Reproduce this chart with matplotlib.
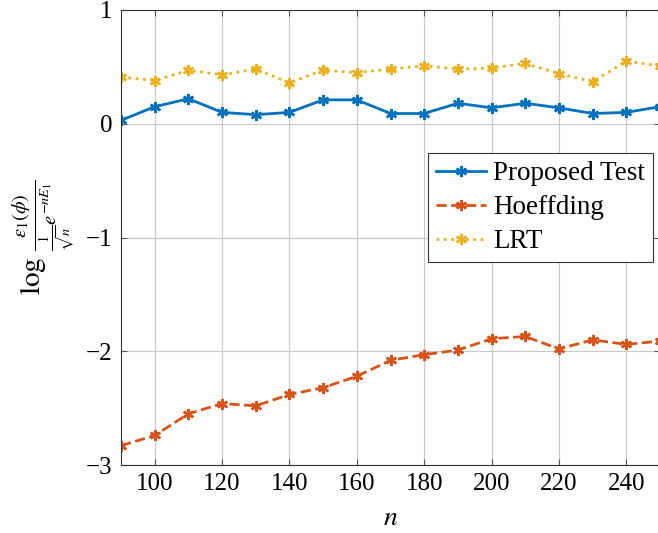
import matplotlib
matplotlib.use("Agg")
import matplotlib.pyplot as plt

plt.rcParams['font.family'] = ['Liberation Serif', 'DejaVu Serif']
plt.rcParams['mathtext.fontset'] = 'stix'

n = [90, 100, 110, 120, 130, 140, 150, 160, 170, 180, 190, 200, 210, 220, 230, 240, 250]
proposed = [0.03, 0.15, 0.22, 0.10, 0.08, 0.10, 0.21, 0.21, 0.09, 0.09, 0.18, 0.14, 0.18, 0.14, 0.09, 0.10, 0.15]
hoeffding = [-2.83, -2.74, -2.55, -2.46, -2.48, -2.38, -2.32, -2.22, -2.08, -2.03, -1.99, -1.89, -1.87, -1.98, -1.90, -1.94, -1.91]
lrt = [0.41, 0.38, 0.47, 0.43, 0.48, 0.36, 0.47, 0.45, 0.48, 0.51, 0.48, 0.49, 0.53, 0.44, 0.37, 0.55, 0.51]

xticks = [100, 120, 140, 160, 180, 200, 220, 240]
yticks = [-3, -2, -1, 0, 1]

W, H = 658, 533
fig = plt.figure(figsize=(W/100, H/100), dpi=100)
ax = fig.add_axes([121/W, 1 - 465/H, (660-121)/W, (465-10)/H])

ast = (6, 2, 0)
ax.plot(n, proposed, '-', color='#0072BD', lw=2, marker=ast, ms=8, mew=1.8, label='Proposed Test')
ax.plot(n, hoeffding, '--', color='#D95319', lw=2, marker=ast, ms=8, mew=1.8, label='Hoeffding')
ax.plot(n, lrt, ':', color='#EDB120', lw=2, marker=ast, ms=8, mew=1.8, label='LRT')

ax.set_xlim(90, 250)
ax.set_ylim(-3, 1)
ax.set_xticks(xticks)
ax.set_yticks(yticks)
ax.set_yticklabels(['\u22123', '\u22122', '\u22121', '0', '1'])
ax.grid(True, color='#c8c8c8', lw=0.8)
ax.set_axisbelow(True)
ax.tick_params(direction='in', labelsize=18, top=True, right=True, length=4,
               color='#555555', pad=6)
for s in ax.spines.values():
    s.set_color('#333333')

ax.set_xlabel(r'$n$', fontsize=20, labelpad=8)
# y label placed by hand so the tall fraction stays inside the figure
fig.text(10/W, 1 - 237/H, r'$\log\,\frac{\epsilon_1(\phi)}{\frac{1}{\sqrt{n}}e^{-nE_1}}$',
         fontsize=21, rotation=90, ha='left', va='center')

leg = ax.legend(loc='upper left', bbox_to_anchor=((428-121)/(660-121), 1 - (153-10)/455),
                fontsize=19.5, fancybox=False, edgecolor='#333333', framealpha=1,
                handlelength=1.85, borderpad=0.3, labelspacing=0.33, handletextpad=0.25,
                borderaxespad=0)
leg.get_frame().set_linewidth(0.8)

fig.savefig('out.png', dpi=100)
